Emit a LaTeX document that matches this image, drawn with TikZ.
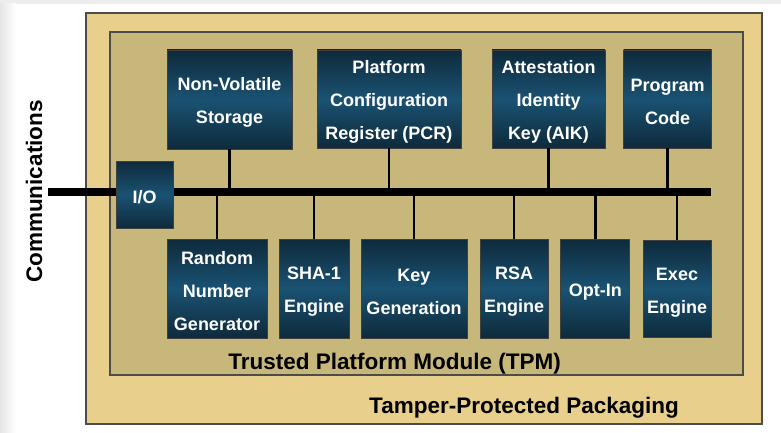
\documentclass[tikz,border=0pt]{standalone}
\usepackage{fontspec}
\setmainfont{Liberation Sans}
\definecolor{packtan}{HTML}{E8CF8B}
\definecolor{tpmtan}{HTML}{C8B77A}
\definecolor{unitdark}{HTML}{0E2A3B}
\definecolor{unitmid}{HTML}{1A5272}
\newcommand{\tallline}{\rule{0pt}{19pt}}
\tikzset{
  unit/.style={draw=black!75, line width=0.8pt, top color=unitdark, bottom color=unitdark,
    middle color=unitmid, text=white, font=\fontsize{18}{33}\selectfont\bfseries,
    align=center, inner sep=0pt},
  wire/.style={line width=2.8pt},
  bus/.style={line width=8pt},
  caption/.style={font=\fontsize{22.5}{27}\selectfont\bfseries, anchor=base, inner sep=0pt}
}
\begin{document}
\begin{tikzpicture}[x=1pt,y=-1pt]
            \useasboundingbox (0,0) rectangle (781,433);
            \fill[white] (0,0) rectangle (781,433);
            \fill[black!7] (0,0) rectangle (781,4);
            \shade[left color=black!10, right color=white] (0,4) rectangle (16,433);

            % Packaging and TPM
            \draw[black!70, line width=1.2pt, fill=packtan] (86,13) rectangle (762,424);
            \draw[black!70, line width=1.2pt, fill=tpmtan] (110,32) rectangle (743,375);

            \node[caption] (tpm) at (394.5,369) {Trusted Platform Module (TPM)};
            \node[caption] (pack) at (524,413) {Tamper-Protected Packaging};
            \node[caption, anchor=center, rotate=90] (comm) at (34,191.5) {Communications};

            % Top row
            \node[unit, minimum width=125, minimum height=99] (nvs) at (229.5,99.5) {\tallline Non-Volatile\\Storage};
            \node[unit, minimum width=144, minimum height=98] (pcr) at (389,99) {\tallline Platform\\Configuration\\Register (PCR)};
            \node[unit, minimum width=113, minimum height=98] (aik) at (548.5,99) {\tallline Attestation\\Identity\\Key (AIK)};
            \node[unit, minimum width=88, minimum height=98] (code) at (667.7,99) {\tallline Program\\Code};

            % Bottom row
            \node[unit, minimum width=100, minimum height=99] (rng) at (217,288.5) {\tallline Random\\Number\\Generator};
            \node[unit, minimum width=70, minimum height=99] (sha) at (314,288.5) {\tallline SHA-1\\Engine};
            \node[unit, minimum width=106, minimum height=99] (keygen) at (414,288.5) {\tallline Key\\Generation};
            \node[unit, minimum width=68, minimum height=99] (rsa) at (514,288.5) {\tallline RSA\\Engine};
            \node[unit, minimum width=69, minimum height=99] (optin) at (595.3,288.5) {\tallline Opt-In};
            \node[unit, minimum width=68, minimum height=97] (exec) at (677,289) {\tallline Exec\\Engine};

            % Bus
            \coordinate (busL) at (48,192);
            \coordinate (busR) at (711,192);

            \foreach \u in {nvs,pcr,aik,code,rng,sha,keygen,rsa,optin,exec}
                \draw[wire] (\u) -- (\u |- busL);

            \draw[bus] (busL) -- (busR);

            \node[unit, minimum width=57, minimum height=67] (io) at (144.5,194.5) {\tallline I/O};
\end{tikzpicture}
\end{document}
